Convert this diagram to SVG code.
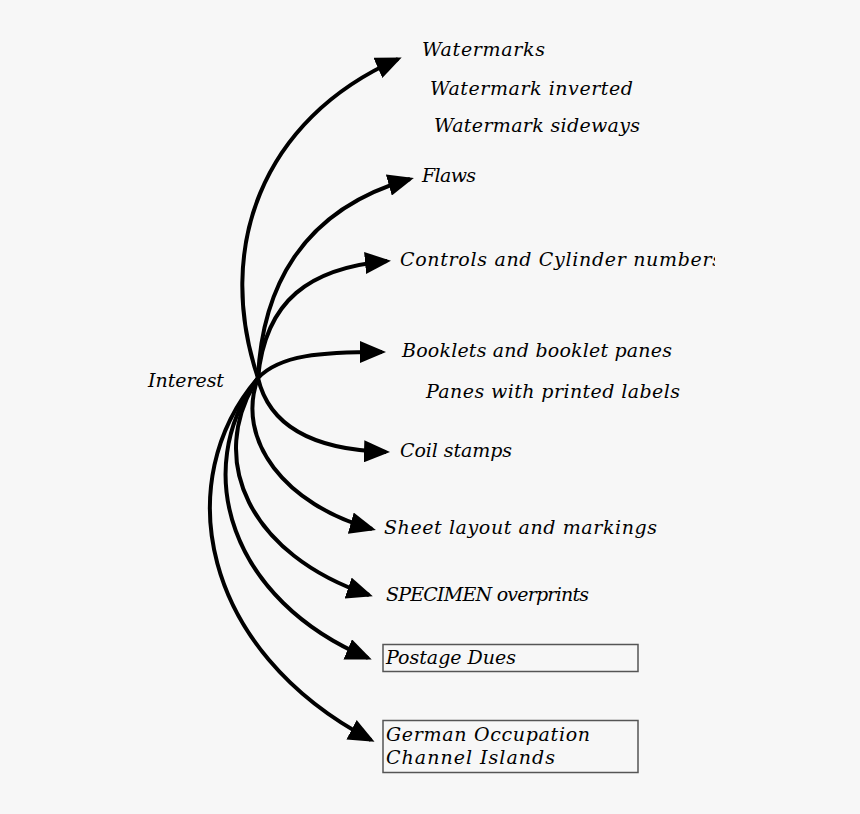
<svg xmlns="http://www.w3.org/2000/svg" width="860" height="814" viewBox="0 0 860 814">
<style>
  .lbl { font-family: "DejaVu Serif", "Liberation Serif", serif; font-style: italic; font-size: 19px; fill: #000; }
  .conn { fill: none; stroke: #000; stroke-width: 4; }
  .box { fill: none; stroke: #555; stroke-width: 1.5; }
</style>
<defs>
  <marker id="ah" markerUnits="userSpaceOnUse" markerWidth="26" markerHeight="22" viewBox="0 0 26 22" refX="22" refY="11" orient="auto">
    <path d="M0,0 L26,11 L0,22 Z" fill="#000"/>
  </marker>
  <clipPath id="clipR"><rect x="0" y="0" width="715" height="814"/></clipPath>
</defs>
<rect width="860" height="814" fill="#f7f7f7"/>
<g id="connectors">
  <path class="conn" marker-end="url(#ah)" d="M258,378 C215,250 260,120 398,59"/>
  <path class="conn" marker-end="url(#ah)" d="M258,378 C262,290 300,210 410,179"/>
  <path class="conn" marker-end="url(#ah)" d="M258,378 C265,300 310,268 387,261"/>
  <path class="conn" marker-end="url(#ah)" d="M258,378 C280,355 320,352 382,352"/>
  <path class="conn" marker-end="url(#ah)" d="M258,378 C270,430 320,450 386,452"/>
  <path class="conn" marker-end="url(#ah)" d="M258,378 C235,440 285,505 372,529"/>
  <path class="conn" marker-end="url(#ah)" d="M258,378 C205,460 250,555 369,595"/>
  <path class="conn" marker-end="url(#ah)" d="M258,378 C190,470 230,600 368,658"/>
  <path class="conn" marker-end="url(#ah)" d="M258,378 C170,480 200,650 371,740"/>
</g>
<g id="interest"><text class="lbl" x="148" y="387" textLength="76">Interest</text></g>
<g id="watermarks">
  <text class="lbl" x="422" y="56" textLength="123">Watermarks</text>
  <text class="lbl" x="430" y="95" textLength="203">Watermark inverted</text>
  <text class="lbl" x="434" y="132" textLength="206">Watermark sideways</text>
</g>
<g id="flaws"><text class="lbl" x="422" y="182" textLength="54">Flaws</text></g>
<g id="controls" clip-path="url(#clipR)"><text class="lbl" x="400" y="266" textLength="322">Controls and Cylinder numbers</text></g>
<g id="booklets">
  <text class="lbl" x="402" y="357" textLength="270">Booklets and booklet panes</text>
  <text class="lbl" x="426" y="398" textLength="254">Panes with printed labels</text>
</g>
<g id="coil"><text class="lbl" x="400" y="457" textLength="112">Coil stamps</text></g>
<g id="sheet"><text class="lbl" x="384" y="534" textLength="273">Sheet layout and markings</text></g>
<g id="specimen"><text class="lbl" x="386" y="601" textLength="203">SPECIMEN overprints</text></g>
<g id="postage">
  <rect class="box" x="383" y="644.5" width="255" height="27"/>
  <text class="lbl" x="386" y="664" textLength="130">Postage Dues</text>
</g>
<g id="german">
  <rect class="box" x="383" y="720.5" width="255" height="52"/>
  <text class="lbl" x="386" y="741" textLength="204">German Occupation</text>
  <text class="lbl" x="386" y="764" textLength="169">Channel Islands</text>
</g>
</svg>
